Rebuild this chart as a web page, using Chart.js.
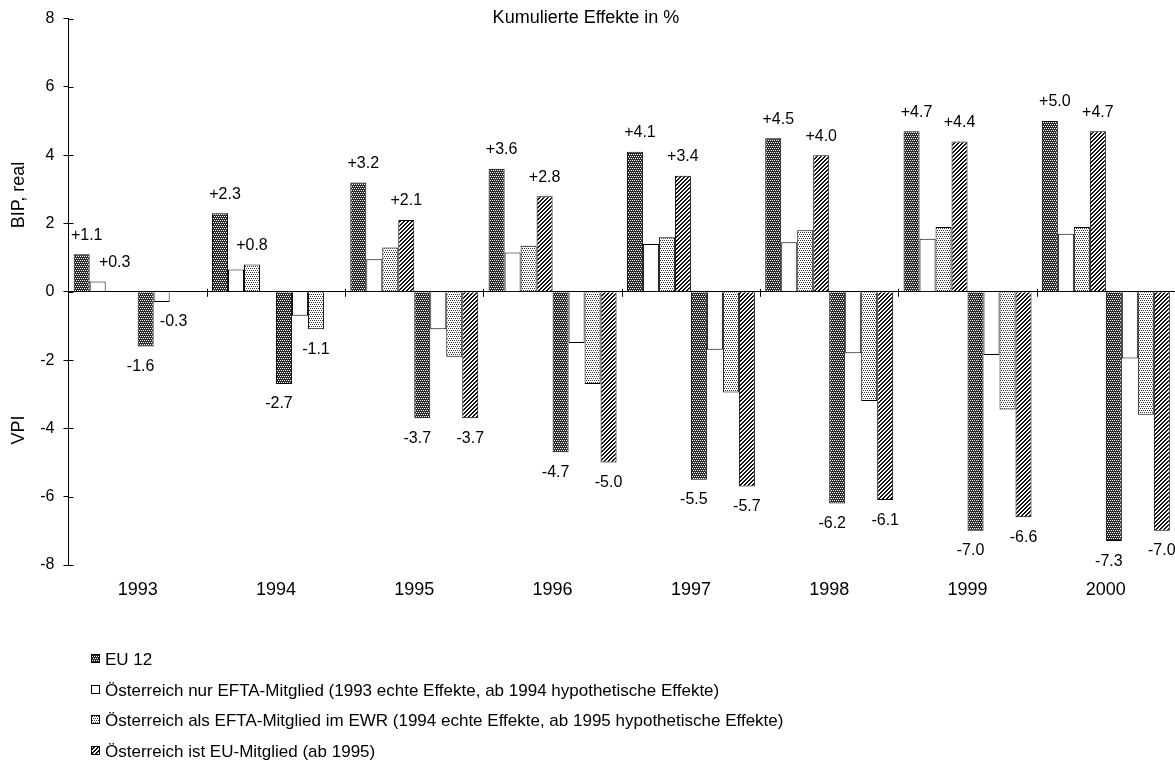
<!DOCTYPE html>
<html>
<head>
<meta charset="utf-8">
<script src="https://cdn.jsdelivr.net/npm/chart.js@4.4.1/dist/chart.umd.min.js"></script>
<style>
  html, body { margin: 0; padding: 0; background: #fff; }
  canvas { display: block; }
</style>
</head>
<body>
<canvas id="chart" width="1175" height="767"></canvas>
<script>
const years = ['1993', '1994', '1995', '1996', '1997', '1998', '1999', '2000'];
const seriesNames = [
  'EU 12',
  'Österreich nur EFTA-Mitglied (1993 echte Effekte, ab 1994 hypothetische Effekte)',
  'Österreich als EFTA-Mitglied im EWR (1994 echte Effekte, ab 1995 hypothetische Effekte)',
  'Österreich ist EU-Mitglied (ab 1995)'
];

// BIP, real (upper half)
const bipEU12 = [1.1, 2.3, 3.2, 3.6, 4.1, 4.5, 4.7, 5.0];
const bipEFTA = [0.3, 0.65, 0.95, 1.15, 1.4, 1.45, 1.55, 1.7];
const bipEWR  = [null, 0.8, 1.3, 1.35, 1.6, 1.8, 1.9, 1.9];
const bipEU   = [null, null, 2.1, 2.8, 3.4, 4.0, 4.4, 4.7];

// VPI (lower half)
const vpiEU12 = [-1.6, -2.7, -3.7, -4.7, -5.5, -6.2, -7.0, -7.3];
const vpiEFTA = [-0.3, -0.7, -1.1, -1.5, -1.7, -1.8, -1.85, -1.95];
const vpiEWR  = [null, -1.1, -1.9, -2.7, -2.95, -3.2, -3.45, -3.6];
const vpiEU   = [null, null, -3.7, -5.0, -5.7, -6.1, -6.6, -7.0];

// series that is the "real" status in each year (gets a value label next to EU 12)
const actualSeries = [1, 2, 3, 3, 3, 3, 3, 3];

const yTicks = [-8, -6, -4, -2, 0, 2, 4, 6, 8];

const FONT = '"Liberation Sans", Arial, sans-serif';

const canvas = document.getElementById('chart');
const ctx = canvas.getContext('2d');

function tile(bg, fg, test) {
  const c = document.createElement('canvas');
  c.width = 4; c.height = 4;
  const g = c.getContext('2d');
  g.fillStyle = bg;
  g.fillRect(0, 0, 4, 4);
  g.fillStyle = fg;
  for (let x = 0; x < 4; x++) {
    for (let y = 0; y < 4; y++) {
      if (test(x, y)) g.fillRect(x, y, 1, 1);
    }
  }
  return ctx.createPattern(c, 'repeat');
}

const lattice = (x, y) => y % 2 === 0 && (x + y / 2) % 2 === 0;

const patterns = [
  tile('#2a2a2a', '#ffffff', lattice),                                    // dark crosshatch
  '#ffffff',                                                              // empty
  tile('#ffffff', '#333333', lattice),                                    // light stipple
  tile('#ffffff', '#111111', (x, y) => (x + y) % 4 === 0 || (x + y) % 4 === 1) // diagonal hatch
];

const bipData = [bipEU12, bipEFTA, bipEWR, bipEU];
const vpiData = [vpiEU12, vpiEFTA, vpiEWR, vpiEU];

const datasets = [];
bipData.forEach((d, i) => datasets.push({ label: seriesNames[i], data: d, series: i, backgroundColor: patterns[i] }));
vpiData.forEach((d, i) => datasets.push({ label: seriesNames[i], data: d, series: i, backgroundColor: patterns[i] }));
datasets.forEach(ds => {
  ds.borderColor = '#000';
  ds.borderWidth = 1;
  ds.categoryPercentage = 0.925;
  ds.barPercentage = 1.0;
});

const fmt = v => (v > 0 ? '+' : '') + v.toFixed(1);

function labelShift(series, year, v) {
  if (series === 0) return v > 0 ? 5 : -5;
  if (year === 0) return v > 0 ? 17 : 12;
  return 0;
}

const decorations = {
  id: 'decorations',
  afterDraw(chart) {
    const c = chart.ctx;
    const xs = chart.scales.x;
    const ys = chart.scales.y;
    const area = chart.chartArea;
    const y0 = ys.getPixelForValue(0);
    c.save();
    c.strokeStyle = '#000';
    c.lineWidth = 1;

    // inner half of the y tick marks
    yTicks.forEach(v => {
      const py = Math.round(ys.getPixelForValue(v)) + 0.5;
      c.beginPath();
      c.moveTo(area.left, py);
      c.lineTo(area.left + 5, py);
      c.stroke();
    });

    // category boundary ticks on the zero line
    for (let i = 1; i <= years.length; i++) {
      const px = Math.round(xs.getPixelForValue(i - 0.5)) + 0.5;
      c.beginPath();
      c.moveTo(px, y0 - 3);
      c.lineTo(px, y0 + 5);
      c.stroke();
    }

    // value labels
    c.fillStyle = '#000';
    c.font = '16px ' + FONT;
    c.textAlign = 'center';
    c.textBaseline = 'middle';
    chart.data.datasets.forEach((ds, di) => {
      const meta = chart.getDatasetMeta(di);
      ds.data.forEach((v, i) => {
        if (v === null) return;
        if (ds.series !== 0 && ds.series !== actualSeries[i]) return;
        const el = meta.data[i];
        const ty = v > 0 ? el.y - 19 : el.y + 20;
        c.fillText(fmt(v), el.x + labelShift(ds.series, i, v), ty);
      });
    });

    // title
    c.font = '18px ' + FONT;
    c.fillText('Kumulierte Effekte in %', 586, 18);

    // axis titles
    c.font = '18px ' + FONT;
    [['BIP, real', 195], ['VPI', 430]].forEach(([t, cy]) => {
      c.save();
      c.translate(19, cy);
      c.rotate(-Math.PI / 2);
      c.fillText(t, 0, 0);
      c.restore();
    });

    // legend
    c.font = '17px ' + FONT;
    c.textAlign = 'left';
    seriesNames.forEach((name, i) => {
      const ly = Math.round(659 + i * 30.5);
      c.fillStyle = patterns[i];
      c.fillRect(91, ly - 5, 9, 9);
      c.strokeRect(91.5, ly - 4.5, 8, 8);
      c.fillStyle = '#000';
      c.fillText(name, 105, ly + 1);
    });
    c.restore();
  }
};

new Chart(ctx, {
  type: 'bar',
  data: { labels: years, datasets: datasets },
  options: {
    responsive: false,
    animation: false,
    devicePixelRatio: 1,
    layout: { padding: { top: 17, right: 0, left: 0, bottom: 0 } },
    plugins: {
      legend: { display: false },
      tooltip: { enabled: false }
    },
    scales: {
      x: {
        grid: { display: false, drawTicks: false },
        border: { display: false },
        ticks: { color: '#000', font: { family: FONT, size: 18 }, padding: 14 },
        afterFit: s => { s.height = 202; }
      },
      y: {
        min: -8,
        max: 8,
        afterBuildTicks: s => { s.ticks = yTicks.map(v => ({ value: v })); },
        grid: {
          color: c => (c.tick && c.tick.value === 0 ? '#000' : 'rgba(0,0,0,0)'),
          tickColor: '#000',
          tickLength: 5,
          lineWidth: 1
        },
        border: { display: true, color: '#000', width: 1 },
        ticks: { color: '#000', font: { family: FONT, size: 16 }, padding: 9 },
        afterFit: s => { s.width = 68.5; }
      }
    }
  },
  plugins: [decorations]
});
</script>
</body>
</html>
